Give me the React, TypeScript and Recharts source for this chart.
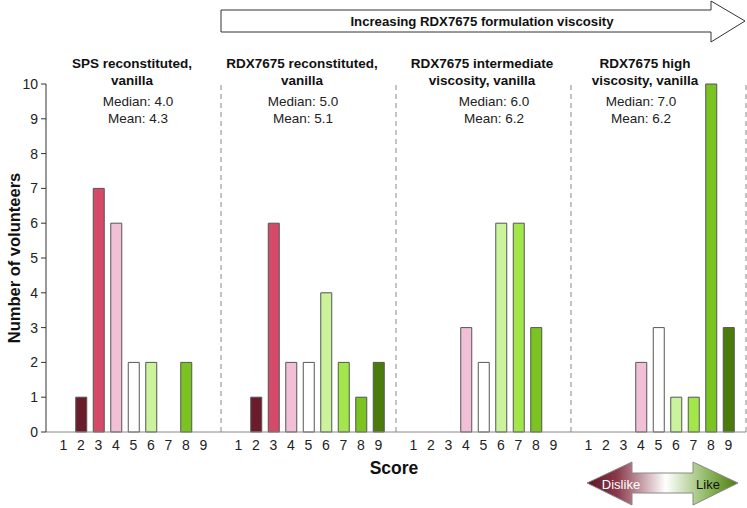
import { BarChart, Bar, XAxis, YAxis, Cell, ReferenceLine } from "recharts";

const scores = [1, 2, 3, 4, 5, 6, 7, 8, 9];
const panelIds = ["sps", "rec", "int", "high"];
const spsCounts = [0, 1, 7, 6, 2, 2, 0, 2, 0];
const recCounts = [0, 1, 6, 2, 2, 4, 2, 1, 2];
const intCounts = [0, 0, 0, 3, 2, 6, 6, 3, 0];
const highCounts = [0, 0, 0, 2, 3, 1, 1, 10, 3];
const yTicks = [0, 1, 2, 3, 4, 5, 6, 7, 8, 9, 10];

const panelTitles = [
  ["SPS reconstituted,", "vanilla"],
  ["RDX7675 reconstituted,", "vanilla"],
  ["RDX7675 intermediate", "viscosity, vanilla"],
  ["RDX7675 high", "viscosity, vanilla"],
];
const panelMedians = ["Median: 4.0", "Median: 5.0", "Median: 6.0", "Median: 7.0"];
const panelMeans = ["Mean: 4.3", "Mean: 5.1", "Mean: 6.2", "Mean: 6.2"];

const scoreColors: Record<number, string> = {
  1: "#4e1220",
  2: "#6b1c2b",
  3: "#d44a68",
  4: "#f1bfd6",
  5: "#ffffff",
  6: "#caf39b",
  7: "#a3e64a",
  8: "#7bc320",
  9: "#4b7c0b",
};

const allCounts = [spsCounts, recCounts, intCounts, highCounts];

type Row = { key: string; score: number | null; count: number | null };
const rows: Row[] = [];
panelIds.forEach((p, i) => {
  scores.forEach((s, j) => rows.push({ key: `${p}-${s}`, score: s, count: allCounts[i][j] }));
  rows.push({ key: `${p}-gap`, score: null, count: null });
});

const FONT = '"Liberation Sans", Arial, sans-serif';

// plot area: x 46..746, y 84..432
const titleX = [132, 302, 482, 645];
const statX = [138, 303, 494, 641];

export default function App() {
  return (
    <div style={{ position: "absolute", left: 0, top: 0, width: 747, height: 508, background: "#fff", fontFamily: FONT }}>
      <BarChart
        width={747}
        height={508}
        data={rows}
        margin={{ top: 84, right: 1, bottom: 46, left: 0 }}
        barCategoryGap="20%"
      >
        <XAxis
          dataKey="key"
          interval={0}
          tickLine={false}
          axisLine={{ stroke: "#888" }}
          tickMargin={2}
          height={30}
          padding={{ left: 8.75, right: -8.75 }}
          tick={{ fill: "#222", fontSize: 14, fontFamily: FONT }}
          tickFormatter={(v: string) => (v.endsWith("gap") ? "" : v.split("-")[1])}
        />
        <YAxis
          domain={[0, 10]}
          ticks={yTicks}
          width={46}
          tickSize={5}
          tickMargin={3}
          axisLine={{ stroke: "#333" }}
          tickLine={{ stroke: "#333" }}
          tick={{ fill: "#222", fontSize: 14, fontFamily: FONT }}
        />
        {panelIds.map((p) => (
          <ReferenceLine
            key={p}
            x={`${p}-gap`}
            stroke="#888"
            strokeDasharray="5 4"
            ifOverflow="visible"
          />
        ))}
        <Bar dataKey="count" stroke="#555" strokeWidth={1} isAnimationActive={false}>
          {rows.map((r) => (
            <Cell key={r.key} fill={r.score ? scoreColors[r.score] : "none"} />
          ))}
        </Bar>
      </BarChart>

      <svg
        width={747}
        height={508}
        style={{ position: "absolute", left: 0, top: 0, pointerEvents: "none" }}
        fontFamily={FONT}
      >
        <defs>
          <linearGradient id="likeGrad" x1="0" y1="0" x2="1" y2="0">
            <stop offset="0%" stopColor="#5e1424" />
            <stop offset="20%" stopColor="#8a3a4c" />
            <stop offset="52%" stopColor="#ffffff" />
            <stop offset="80%" stopColor="#8fb860" />
            <stop offset="100%" stopColor="#4b7c0b" />
          </linearGradient>
        </defs>

        {/* top arrow */}
        <polygon
          points="221,10 711,10 711,1 745,21 711,42 711,32 221,32"
          fill="#fff"
          stroke="#333"
          strokeWidth={1}
        />
        <text x={482} y={21} textAnchor="middle" dominantBaseline="central" fontSize={13.2} fontWeight="bold" fill="#111">
          Increasing RDX7675 formulation viscosity
        </text>

        {panelTitles.map((t, i) => (
          <g key={i}>
            <text x={titleX[i]} y={63} textAnchor="middle" dominantBaseline="central" fontSize={13.5} fontWeight="bold" fill="#111">
              {t[0]}
            </text>
            <text x={titleX[i]} y={80} textAnchor="middle" dominantBaseline="central" fontSize={13.5} fontWeight="bold" fill="#111">
              {t[1]}
            </text>
            <text x={statX[i]} y={101} textAnchor="middle" dominantBaseline="central" fontSize={13.5} fill="#222">
              {panelMedians[i]}
            </text>
            <text x={statX[i]} y={118} textAnchor="middle" dominantBaseline="central" fontSize={13.5} fill="#222">
              {panelMeans[i]}
            </text>
          </g>
        ))}

        <text
          x={14}
          y={258}
          transform="rotate(-90 14 258)"
          textAnchor="middle"
          dominantBaseline="central"
          fontSize={16.5}
          fontWeight="bold"
          fill="#111"
        >
          Number of volunteers
        </text>
        <text x={394} y={468} textAnchor="middle" dominantBaseline="central" fontSize={17.5} fontWeight="bold" fill="#111">
          Score
        </text>

        {/* dislike / like arrow */}
        <polygon
          points="587,483 632,462 632,473 693,473 693,462 738,483 693,505 693,493 632,493 632,505"
          fill="url(#likeGrad)"
          stroke="#888"
          strokeWidth={1}
        />
        <text x={621} y={484} textAnchor="middle" dominantBaseline="central" fontSize={13} fill="#fff">
          Dislike
        </text>
        <text x={708} y={484} textAnchor="middle" dominantBaseline="central" fontSize={13} fill="#111">
          Like
        </text>
      </svg>
    </div>
  );
}
